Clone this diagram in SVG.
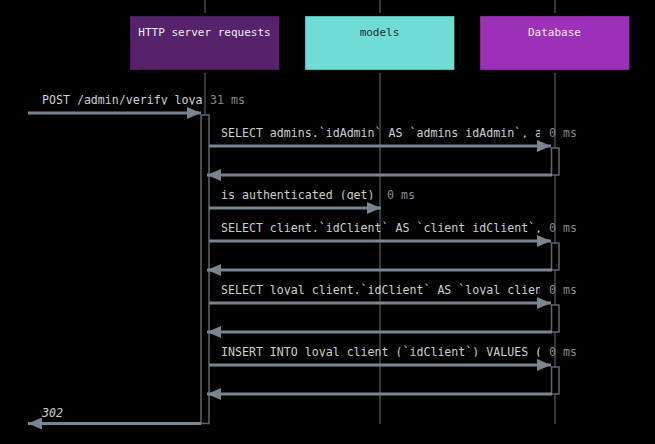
<svg xmlns="http://www.w3.org/2000/svg" width="655" height="444" viewBox="0 0 655 444">
<style>
.bg{fill:#000}
.life{stroke:#464a4f;stroke-width:1.5;fill:none}
.box{stroke:rgba(0,0,0,0.35);stroke-width:1}
.title{font-family:"DejaVu Sans Mono","Liberation Mono",monospace;font-size:11px;text-anchor:middle}
.act{fill:#000;stroke:#60666c;stroke-width:1.5}
.msg{stroke:#7a8590;stroke-width:3;fill:none}
.lbl{font-family:"DejaVu Sans Mono","Liberation Mono",monospace;font-size:11.6px;fill:#cdd0d3}
.ms{font-family:"DejaVu Sans Mono","Liberation Mono",monospace;font-size:11.6px;fill:#858b92}
</style>
<defs>
<marker id="ah" markerUnits="userSpaceOnUse" markerWidth="14" markerHeight="12" refX="14" refY="6" orient="auto">
<path d="M0,0 L14,6 L0,12 z" fill="#7a8590"/>
</marker>
<clipPath id="c1" clipPathUnits="userSpaceOnUse"><rect x="40" y="91" width="163" height="13.7"/></clipPath>
<clipPath id="c2" clipPathUnits="userSpaceOnUse"><rect x="219" y="124" width="321" height="13.7"/></clipPath>
<clipPath id="c4" clipPathUnits="userSpaceOnUse"><rect x="219" y="186" width="161" height="13.7"/></clipPath>
<clipPath id="c5" clipPathUnits="userSpaceOnUse"><rect x="219" y="219" width="321" height="13.7"/></clipPath>
<clipPath id="c6" clipPathUnits="userSpaceOnUse"><rect x="219" y="281" width="321" height="13.7"/></clipPath>
<clipPath id="c7" clipPathUnits="userSpaceOnUse"><rect x="219" y="343" width="321" height="13.7"/></clipPath>
</defs>
<rect class="bg" x="0" y="0" width="655" height="444"/>

<g id="lifelines">
<line class="life" x1="205" y1="0" x2="205" y2="13"/>
<line class="life" x1="205" y1="73" x2="205" y2="424"/>
<line class="life" x1="380" y1="0" x2="380" y2="13"/>
<line class="life" x1="380" y1="73" x2="380" y2="424"/>
<line class="life" x1="555" y1="0" x2="555" y2="13"/>
<line class="life" x1="555" y1="73" x2="555" y2="424"/>
</g>

<g id="node-http">
<rect class="box" x="130" y="16" width="149.5" height="54" fill="#56226b"/>
<text class="title" x="204.5" y="36" fill="#eeeeee">HTTP server requests</text>
</g>
<g id="node-models">
<rect class="box" x="305" y="16" width="149.5" height="54" fill="#6fddd6"/>
<text class="title" x="379.5" y="36" fill="#1b2b2b">models</text>
</g>
<g id="node-database">
<rect class="box" x="480" y="16" width="149.5" height="54" fill="#9c30b8"/>
<text class="title" x="554.5" y="36" fill="#eeeeee">Database</text>
</g>

<g id="activations">
<rect class="act" x="201" y="115" width="8" height="308.5"/>
<rect class="act" x="551.5" y="148" width="7.5" height="27"/>
<rect class="act" x="551.5" y="243" width="7.5" height="27"/>
<rect class="act" x="551.5" y="305" width="7.5" height="27"/>
<rect class="act" x="551.5" y="367" width="7.5" height="27"/>
</g>

<g id="connectors">
<line class="msg" x1="28" y1="113" x2="201" y2="113" marker-end="url(#ah)"/>
<line class="msg" x1="209" y1="146" x2="551" y2="146" marker-end="url(#ah)"/>
<line class="msg" x1="552" y1="175" x2="207" y2="175" marker-end="url(#ah)"/>
<line class="msg" x1="209" y1="208" x2="381" y2="208" marker-end="url(#ah)"/>
<line class="msg" x1="209" y1="241" x2="551" y2="241" marker-end="url(#ah)"/>
<line class="msg" x1="552" y1="270" x2="207" y2="270" marker-end="url(#ah)"/>
<line class="msg" x1="209" y1="303" x2="551" y2="303" marker-end="url(#ah)"/>
<line class="msg" x1="552" y1="332" x2="207" y2="332" marker-end="url(#ah)"/>
<line class="msg" x1="209" y1="365" x2="551" y2="365" marker-end="url(#ah)"/>
<line class="msg" x1="552" y1="394" x2="207" y2="394" marker-end="url(#ah)"/>
<line class="msg" x1="201" y1="423.5" x2="28" y2="423.5" marker-end="url(#ah)"/>
</g>

<g id="labels">
<text class="lbl" x="42" y="104" clip-path="url(#c1)">POST /admin/verify_loya</text>
<text class="ms" x="210" y="104">31 ms</text>
<text class="lbl" x="221" y="137" clip-path="url(#c2)">SELECT admins.`idAdmin` AS `admins_idAdmin`, a</text>
<text class="ms" x="549" y="137">0 ms</text>
<text class="lbl" x="221" y="199" clip-path="url(#c4)">is authenticated (get)</text>
<text class="ms" x="387" y="199">0 ms</text>
<text class="lbl" x="221" y="232" clip-path="url(#c5)">SELECT client.`idClient` AS `client_idClient`,</text>
<text class="ms" x="549" y="232">0 ms</text>
<text class="lbl" x="221" y="294" clip-path="url(#c6)">SELECT loyal_client.`idClient` AS `loyal_clien</text>
<text class="ms" x="549" y="294">0 ms</text>
<text class="lbl" x="221" y="356" clip-path="url(#c7)">INSERT INTO loyal_client (`idClient`) VALUES (</text>
<text class="ms" x="549" y="356">0 ms</text>
<text class="lbl" x="42" y="417" font-style="italic">302</text>
</g>
</svg>
